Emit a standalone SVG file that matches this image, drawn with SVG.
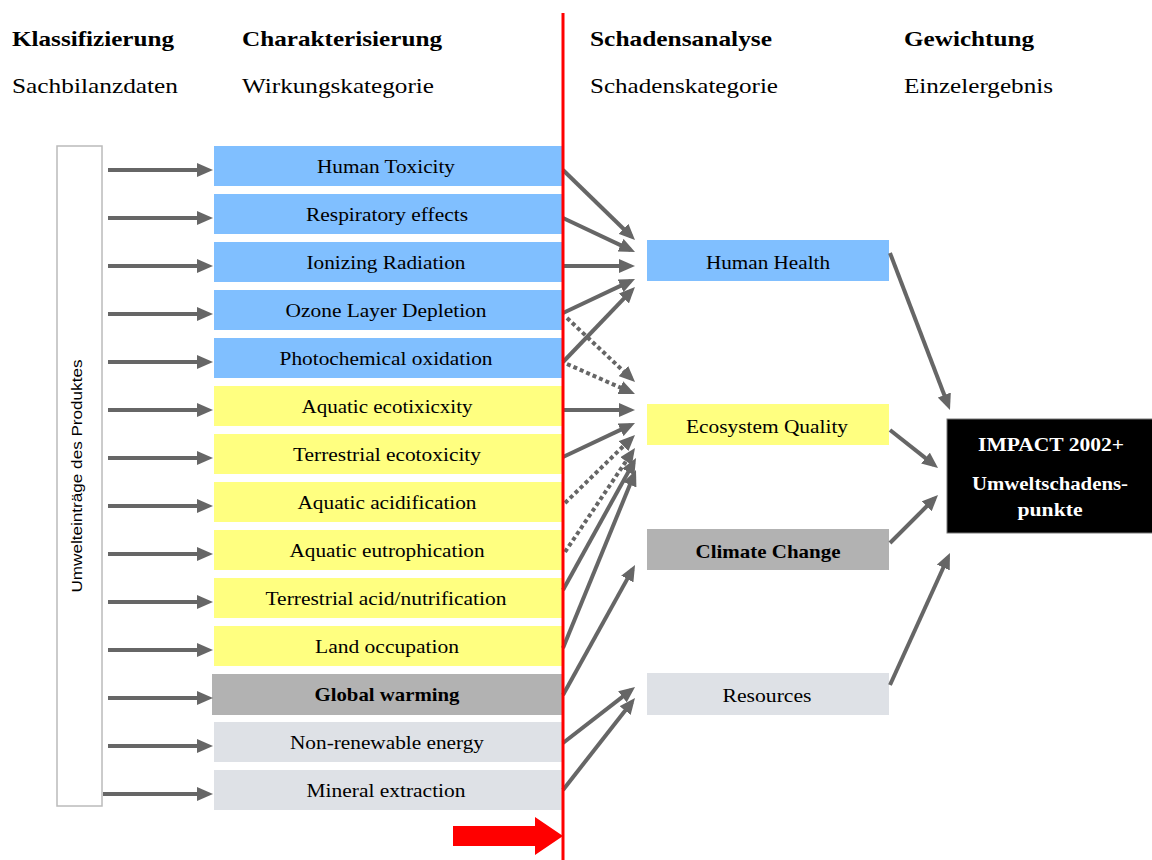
<svg xmlns="http://www.w3.org/2000/svg" width="1152" height="860" viewBox="0 0 1152 860">
  <style>
    .hd { font-family: "Liberation Serif", serif; font-size: 22px; font-weight: bold; fill: #000; }
    .sub { font-family: "Liberation Serif", serif; font-size: 22px; fill: #000; }
    .lbl { font-family: "Liberation Serif", serif; font-size: 19px; fill: #000; text-anchor: middle; }
    .b { font-weight: bold; }
    .blue { fill: #80BFFF; }
    .yellow { fill: #FFFF80; }
    .dgray { fill: #B2B2B2; }
    .lgray { fill: #DEE1E6; }
    .arr { stroke: #666; stroke-width: 4; fill: none; marker-end: url(#head); }
    .dot { stroke-dasharray: 4 3; }
    .imp { font-family: "Liberation Serif", serif; font-size: 18px; font-weight: bold; fill: #fff; text-anchor: middle; }
  </style>
  <defs>
    <marker id="head" markerUnits="userSpaceOnUse" markerWidth="16" markerHeight="14" viewBox="0 0 16 14" refX="11" refY="7" orient="auto">
      <path d="M0,0 L16,7 L0,14 z" fill="#666"/>
    </marker>
  </defs>
  <rect width="1152" height="860" fill="#fff"/>

  <!-- column headings -->
  <g id="headings">
    <text class="hd" x="12" y="46" textLength="162" lengthAdjust="spacingAndGlyphs">Klassifizierung</text>
    <text class="hd" x="242" y="46" textLength="200" lengthAdjust="spacingAndGlyphs">Charakterisierung</text>
    <text class="hd" x="590" y="46" textLength="182" lengthAdjust="spacingAndGlyphs">Schadensanalyse</text>
    <text class="hd" x="904" y="46" textLength="130" lengthAdjust="spacingAndGlyphs">Gewichtung</text>
    <text class="sub" x="12" y="93" textLength="166" lengthAdjust="spacingAndGlyphs">Sachbilanzdaten</text>
    <text class="sub" x="242" y="93" textLength="192" lengthAdjust="spacingAndGlyphs">Wirkungskategorie</text>
    <text class="sub" x="590" y="93" textLength="188" lengthAdjust="spacingAndGlyphs">Schadenskategorie</text>
    <text class="sub" x="904" y="93" textLength="149" lengthAdjust="spacingAndGlyphs">Einzelergebnis</text>
  </g>

  <!-- inventory inputs -->
  <g id="inputs">
    <rect x="57" y="146" width="45" height="660" fill="#fff" stroke="#BBB" stroke-width="1.5"/>
    <text transform="translate(82,476) rotate(-90)" font-family="'Liberation Sans', sans-serif" font-size="15" text-anchor="middle" textLength="233" lengthAdjust="spacingAndGlyphs">Umwelteinträge des Produktes</text>
  </g>

  <!-- midpoint categories -->
  <g id="cat-human-toxicity"><rect class="blue" x="214" y="146" width="348" height="40"/><text class="lbl" x="386" y="173" textLength="138" lengthAdjust="spacingAndGlyphs">Human Toxicity</text></g>
  <g id="cat-respiratory"><rect class="blue" x="214" y="194" width="348" height="40"/><text class="lbl" x="387" y="221" textLength="162" lengthAdjust="spacingAndGlyphs">Respiratory effects</text></g>
  <g id="cat-ionizing"><rect class="blue" x="214" y="242" width="348" height="40"/><text class="lbl" x="386" y="269" textLength="159" lengthAdjust="spacingAndGlyphs">Ionizing Radiation</text></g>
  <g id="cat-ozone"><rect class="blue" x="214" y="290" width="348" height="40"/><text class="lbl" x="386" y="317" textLength="201" lengthAdjust="spacingAndGlyphs">Ozone Layer Depletion</text></g>
  <g id="cat-photochemical"><rect class="blue" x="214" y="338" width="348" height="40"/><text class="lbl" x="386" y="365" textLength="213" lengthAdjust="spacingAndGlyphs">Photochemical oxidation</text></g>
  <g id="cat-aquatic-ecotox"><rect class="yellow" x="214" y="386" width="348" height="40"/><text class="lbl" x="387" y="413" textLength="171" lengthAdjust="spacingAndGlyphs">Aquatic ecotixicxity</text></g>
  <g id="cat-terrestrial-ecotox"><rect class="yellow" x="214" y="434" width="348" height="40"/><text class="lbl" x="387" y="461" textLength="188" lengthAdjust="spacingAndGlyphs">Terrestrial ecotoxicity</text></g>
  <g id="cat-aquatic-acid"><rect class="yellow" x="214" y="482" width="348" height="40"/><text class="lbl" x="387" y="509" textLength="179" lengthAdjust="spacingAndGlyphs">Aquatic acidification</text></g>
  <g id="cat-aquatic-eutro"><rect class="yellow" x="214" y="530" width="348" height="40"/><text class="lbl" x="387" y="557" textLength="195" lengthAdjust="spacingAndGlyphs">Aquatic eutrophication</text></g>
  <g id="cat-terrestrial-acid"><rect class="yellow" x="214" y="578" width="348" height="40"/><text class="lbl" x="386" y="605" textLength="241" lengthAdjust="spacingAndGlyphs">Terrestrial acid/nutrification</text></g>
  <g id="cat-land"><rect class="yellow" x="214" y="626" width="348" height="40"/><text class="lbl" x="387" y="653" textLength="144" lengthAdjust="spacingAndGlyphs">Land occupation</text></g>
  <g id="cat-global-warming"><rect class="dgray" x="212" y="674" width="350" height="41"/><text class="lbl b" x="387" y="701" textLength="145" lengthAdjust="spacingAndGlyphs">Global warming</text></g>
  <g id="cat-nonrenewable"><rect class="lgray" x="214" y="722" width="348" height="40"/><text class="lbl" x="387" y="749" textLength="194" lengthAdjust="spacingAndGlyphs">Non-renewable energy</text></g>
  <g id="cat-mineral"><rect class="lgray" x="214" y="770" width="348" height="40"/><text class="lbl" x="386" y="797" textLength="159" lengthAdjust="spacingAndGlyphs">Mineral extraction</text></g>

  <!-- damage categories -->
  <g id="dmg-human-health"><rect class="blue" x="647" y="240" width="242" height="41"/><text class="lbl" x="768" y="269" textLength="124" lengthAdjust="spacingAndGlyphs">Human Health</text></g>
  <g id="dmg-ecosystem"><rect class="yellow" x="647" y="404" width="242" height="41"/><text class="lbl" x="767" y="433" textLength="162" lengthAdjust="spacingAndGlyphs">Ecosystem Quality</text></g>
  <g id="dmg-climate"><rect class="dgray" x="647" y="529" width="242" height="41"/><text class="lbl b" x="768" y="558" textLength="145" lengthAdjust="spacingAndGlyphs">Climate Change</text></g>
  <g id="dmg-resources"><rect class="lgray" x="647" y="673" width="242" height="42"/><text class="lbl" x="767" y="702" textLength="89" lengthAdjust="spacingAndGlyphs">Resources</text></g>

  <!-- single score -->
  <g id="impact">
    <rect x="947" y="419" width="206" height="114" fill="#000" stroke="#777" stroke-width="1"/>
    <text class="imp" x="1051" y="451" textLength="146" lengthAdjust="spacingAndGlyphs">IMPACT 2002+</text>
    <text class="imp" x="1050" y="490" textLength="156" lengthAdjust="spacingAndGlyphs">Umweltschadens-</text>
    <text class="imp" x="1050" y="516" textLength="65" lengthAdjust="spacingAndGlyphs">punkte</text>
  </g>

  <!-- connectors -->
  <g id="connectors">
    <line class="arr" x1="108" y1="170" x2="208" y2="170"/>
    <line class="arr" x1="108" y1="218" x2="208" y2="218"/>
    <line class="arr" x1="108" y1="266" x2="208" y2="266"/>
    <line class="arr" x1="108" y1="314" x2="208" y2="314"/>
    <line class="arr" x1="108" y1="362" x2="208" y2="362"/>
    <line class="arr" x1="108" y1="410" x2="208" y2="410"/>
    <line class="arr" x1="108" y1="458" x2="208" y2="458"/>
    <line class="arr" x1="108" y1="506" x2="208" y2="506"/>
    <line class="arr" x1="108" y1="554" x2="208" y2="554"/>
    <line class="arr" x1="108" y1="602" x2="208" y2="602"/>
    <line class="arr" x1="108" y1="650" x2="208" y2="650"/>
    <line class="arr" x1="108" y1="698" x2="208" y2="698"/>
    <line class="arr" x1="108" y1="746" x2="208" y2="746"/>
    <line class="arr" x1="103" y1="794" x2="208" y2="794"/>

    <!-- to Human Health -->
    <line class="arr" x1="563" y1="170" x2="631.4" y2="236.5"/>
    <line class="arr" x1="563" y1="218" x2="630.5" y2="249.9"/>
    <line class="arr" x1="563" y1="266" x2="630" y2="266"/>
    <line class="arr" x1="563" y1="313" x2="630.5" y2="281.1"/>
    <line class="arr" x1="563" y1="362" x2="631.5" y2="290.6"/>

    <!-- to Ecosystem Quality -->
    <line class="arr dot" x1="567" y1="318" x2="631.4" y2="378.6"/>
    <line class="arr dot" x1="567" y1="364" x2="630.4" y2="392"/>
    <line class="arr" x1="563" y1="410" x2="630" y2="410"/>
    <line class="arr" x1="563" y1="457" x2="630.5" y2="425.1"/>
    <line class="arr dot" x1="565" y1="503" x2="631.4" y2="438.4"/>
    <line class="arr dot" x1="565" y1="552" x2="632.2" y2="452.1"/>
    <line class="arr" x1="563" y1="590" x2="633.6" y2="462.4"/>
    <line class="arr" x1="563" y1="648" x2="634.1" y2="474.6"/>

    <!-- to Climate Change -->
    <line class="arr" x1="563" y1="695" x2="632.6" y2="569.4"/>

    <!-- to Resources -->
    <line class="arr" x1="563" y1="743" x2="631.1" y2="690.1"/>
    <line class="arr" x1="563" y1="790" x2="631.9" y2="701.9"/>

    <!-- to single score -->
    <line class="arr" x1="890" y1="253" x2="948.2" y2="405.3"/>
    <line class="arr" x1="890" y1="430" x2="934.1" y2="464.9"/>
    <line class="arr" x1="890" y1="543" x2="934.5" y2="498.5"/>
    <line class="arr" x1="890" y1="685" x2="947.9" y2="557.5"/>
  </g>

  <!-- boundary between midpoint and damage level -->
  <g id="boundary">
    <line x1="563" y1="13" x2="563" y2="860" stroke="#FF0000" stroke-width="3"/>
    <path d="M453,826 H535 V817 L563,836 L535,855 V846 H453 Z" fill="#FF0000"/>
  </g>
</svg>
